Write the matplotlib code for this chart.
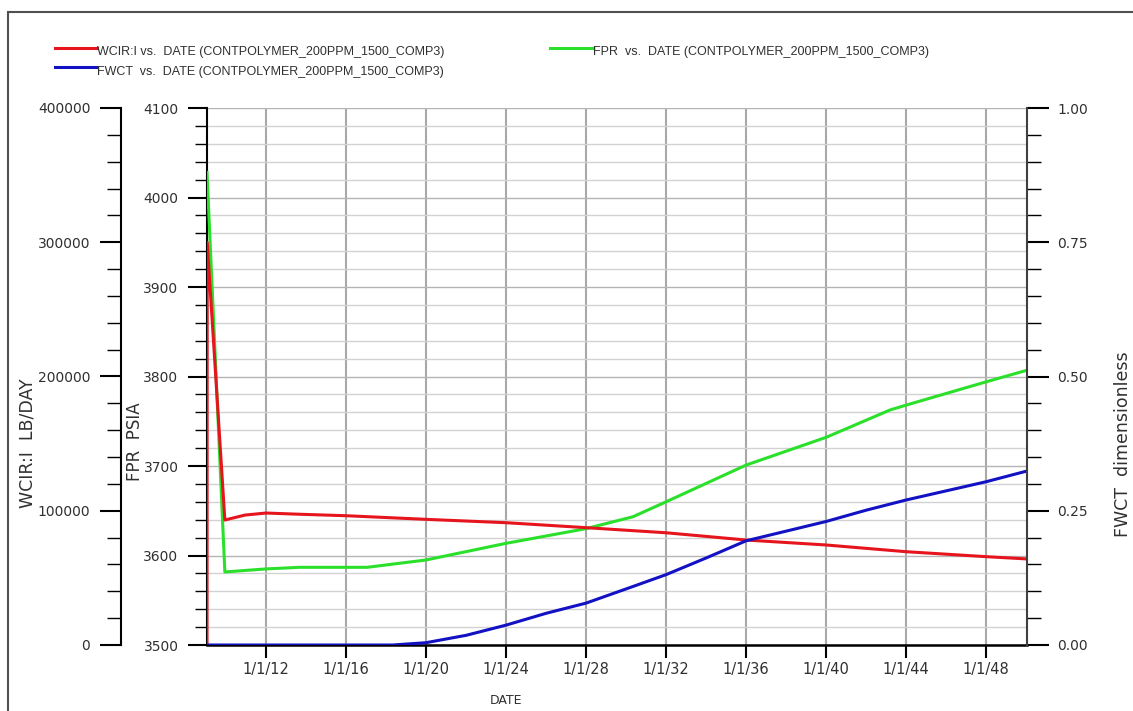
import matplotlib
matplotlib.use("Agg")
import matplotlib.pyplot as plt
import matplotlib.dates as mdates
from matplotlib.ticker import MultipleLocator, StrMethodFormatter, FuncFormatter
from matplotlib.lines import Line2D
from matplotlib.patches import Rectangle
import numpy as np

plt.rcParams['font.family'] = ['DejaVu Sans']

# WCIR:I (LB/DAY), left outer axis
wcir_dates = ['2009-01-18', '2009-01-22', '2009-12-10', '2010-12-15', '2012-01-01',
              '2013-09-01', '2016-01-01', '2020-01-01', '2024-01-01', '2028-01-01',
              '2032-01-01', '2036-01-01', '2040-01-01', '2044-01-01', '2048-01-01',
              '2050-01-18']
wcir_vals = [0, 300000, 93100, 96800, 98300,
             97400, 96300, 93600, 91100, 87400,
             83600, 78200, 74500, 69500, 65800,
             64100]

# FPR (PSIA), left inner axis
fpr_dates = ['2009-01-18', '2009-12-10', '2012-01-01', '2013-09-01', '2017-01-20',
             '2020-01-01', '2024-01-01', '2028-01-01', '2030-05-08', '2032-01-01',
             '2036-01-01', '2040-01-01', '2043-03-15', '2044-01-01', '2048-01-01',
             '2050-01-18']
fpr_vals = [4028, 3581.6, 3585, 3586.8, 3586.8,
            3595, 3613.6, 3630, 3643.3, 3660,
            3701, 3732, 3762.6, 3768, 3794,
            3807]

# FWCT (dimensionless), right axis
fwct_dates = ['2009-01-18', '2018-05-01', '2020-01-01', '2022-01-01', '2024-01-01',
              '2026-01-01', '2028-01-01', '2030-05-08', '2032-01-01', '2034-01-01',
              '2036-01-01', '2038-01-01', '2040-01-01', '2042-01-01', '2044-01-01',
              '2046-01-01', '2048-01-01', '2050-01-18']
fwct_vals = [0, 0, 0.0043, 0.018, 0.037,
             0.059, 0.078, 0.109, 0.131, 0.162,
             0.194, 0.212, 0.230, 0.251, 0.270,
             0.287, 0.304, 0.324]

legend_labels = ['WCIR:I vs.  DATE (CONTPOLYMER_200PPM_1500_COMP3)',
                 'FWCT  vs.  DATE (CONTPOLYMER_200PPM_1500_COMP3)',
                 'FPR  vs.  DATE (CONTPOLYMER_200PPM_1500_COMP3)']

RED = '#e6141c'
GREEN = '#2ae02a'
BLUE = '#1212c4'
TXT = '#303030'

W, H = 1133, 711
def fx(x):
    return x / W
def fy(y):
    return 1 - y / H

fig = plt.figure(figsize=(W / 100, H / 100), dpi=100)
ax = fig.add_axes([fx(207), fy(645), fx(1027) - fx(207), fy(108) - fy(645)])
ax_w = ax.twinx()
ax_f = ax.twinx()

to_dt = lambda d: np.array(d, dtype='datetime64[D]')

ax.plot(to_dt(fpr_dates), fpr_vals, color=GREEN, lw=2.2, zorder=3)
ax_w.plot(to_dt(wcir_dates), wcir_vals, color=RED, lw=2.2)
ax_f.plot(to_dt(fwct_dates), fwct_vals, color=BLUE, lw=2.2)

ax.set_xlim(np.datetime64('2009-01-18'), np.datetime64('2050-01-18'))
ax.set_ylim(3500, 4100)
ax_w.set_ylim(0, 400000)
ax_f.set_ylim(0, 1.0)

# x axis
ax.xaxis.set_major_locator(mdates.YearLocator(4))
def date_fmt(v, pos):
    d = mdates.num2date(v)
    return '%d/%d/%s' % (d.month, d.day, d.strftime('%y'))
ax.xaxis.set_major_formatter(FuncFormatter(date_fmt))
ax.tick_params(axis='x', which='major', length=9.5, width=1.5, pad=2.5,
               labelsize=10.5, labelcolor=TXT, direction='out')

# FPR axis
ax.yaxis.set_major_locator(MultipleLocator(100))
ax.yaxis.set_minor_locator(MultipleLocator(20))
ax.yaxis.set_major_formatter(StrMethodFormatter('{x:.0f}'))
ax.tick_params(axis='y', which='major', length=13.5, width=1.5, pad=7,
               labelsize=10, labelcolor=TXT)
ax.tick_params(axis='y', which='minor', length=8.5, width=1)

# grid
ax.grid(axis='y', which='major', color='#b4b4b4', lw=1.0)
ax.grid(axis='y', which='minor', color='#d2d2d2', lw=1.0)
ax.grid(axis='x', which='major', color='#a8a8a8', lw=1.5)
ax.set_axisbelow(True)

# WCIR axis (outer left)
ax_w.yaxis.tick_left()
ax_w.yaxis.set_label_position('left')
ax_w.spines['left'].set_position(('outward', 62))
ax_w.yaxis.set_major_locator(MultipleLocator(100000))
ax_w.yaxis.set_minor_locator(MultipleLocator(20000))
ax_w.yaxis.set_major_formatter(StrMethodFormatter('{x:.0f}'))
ax_w.tick_params(axis='y', which='major', length=15, width=1.5, pad=7,
                 labelsize=10, labelcolor=TXT)
ax_w.tick_params(axis='y', which='minor', length=10, width=1)

# FWCT axis (right)
ax_f.yaxis.set_major_locator(MultipleLocator(0.25))
ax_f.yaxis.set_minor_locator(MultipleLocator(0.05))
ax_f.yaxis.set_major_formatter(StrMethodFormatter('{x:.2f}'))
ax_f.tick_params(axis='y', which='major', length=16, width=1.5, pad=6,
                 labelsize=10, labelcolor=TXT)
ax_f.tick_params(axis='y', which='minor', length=10, width=1)

for s in ['top', 'right']:
    ax.spines[s].set_visible(False)
for s in ['top', 'right', 'bottom']:
    ax_w.spines[s].set_visible(False)
for s in ['top', 'left', 'bottom']:
    ax_f.spines[s].set_visible(False)
ax.spines['left'].set_linewidth(1.5)
ax.spines['bottom'].set_linewidth(1.8)
ax_w.spines['left'].set_linewidth(1.5)
ax_f.spines['right'].set_linewidth(1.5)
ax_f.spines['right'].set_color('#404040')

# axis titles
fig.text(fx(28), fy(443), 'WCIR:I  LB/DAY', rotation=90, ha='center', va='center',
         fontsize=12.5, color=TXT)
fig.text(fx(135), fy(442), 'FPR  PSIA', rotation=90, ha='center', va='center',
         fontsize=12, color=TXT)
fig.text(fx(1123), fy(444), 'FWCT  dimensionless', rotation=90, ha='center', va='center',
         fontsize=12.5, color=TXT)
fig.text(fx(506), fy(700), 'DATE', ha='center', va='center', fontsize=9, color=TXT)

# legend
leg_pos = [(55, 97, 48, 55), (55, 97, 67, 75), (550, 593, 48, 55)]
for (x0, x1, ly, ty), lab, col in zip(leg_pos, legend_labels, [RED, BLUE, GREEN]):
    fig.add_artist(Line2D([fx(x0), fx(x1)], [fy(ly), fy(ly)], color=col, lw=2.2,
                          transform=fig.transFigure))
    fig.text(fx(x1), fy(ty), lab, ha='left', va='baseline', fontsize=9,
             family='Liberation Sans', color=TXT)

# outer frame
fig.add_artist(Rectangle((fx(8), -0.1), 1.2, fy(12) + 0.1, transform=fig.transFigure,
                         fill=False, edgecolor='#505050', lw=1.5))

fig.savefig('out.png', dpi=100)
